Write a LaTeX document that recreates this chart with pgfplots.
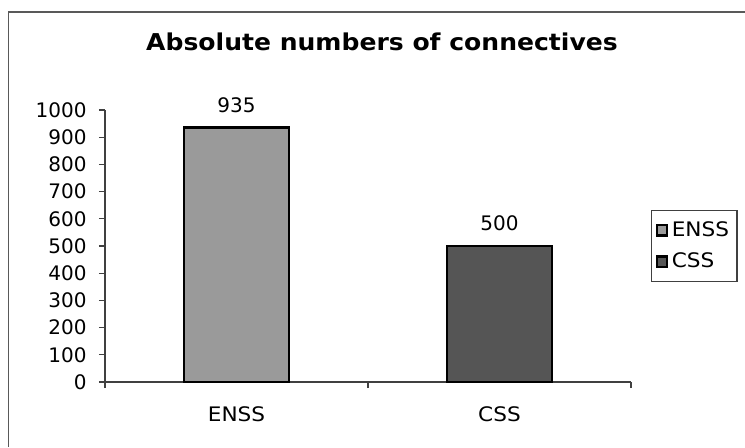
\documentclass[border=0pt]{standalone}
\usepackage{pgfplots}
\pgfplotsset{compat=1.18}
\usepackage{fontspec}
\setmainfont{DejaVu Sans}
\newfontfamily\wide{DejaVu Sans}[FakeStretch=1.08]
\definecolor{enss}{HTML}{9A9A9A}
\definecolor{css}{HTML}{555555}
\begin{document}
\begin{tikzpicture}[x=0.5pt,y=0.5pt]
\path[use as bounding box] (0,0) rectangle (745,447);
\draw[line width=0.6pt, black!65] (8.5,0) -- (8.5,435) -- (745,435);
\node[font=\wide\fontsize{11.6}{14}\selectfont\bfseries] at (382,405) {Absolute numbers of connectives};
\begin{axis}[
  at={(52.5pt,32.5pt)}, anchor=south west,
  width=263pt, height=136pt, scale only axis,
  xmin=-0.5, xmax=1.5, ymin=0, ymax=1000,
  axis lines=left, axis line style={-, black!75, line width=0.6pt},
  tick align=outside,
  ytick={0,100,...,1000},
  major tick length=3pt,
  tick style={black!75, line width=0.6pt},
  xtick={-0.5,0.5,1.5}, xticklabels={},
  extra x ticks={0,1}, extra x tick labels={ENSS,CSS},
  extra x tick style={major tick length=0pt, xticklabel style={yshift=-9pt, font=\wide\fontsize{10}{12}\selectfont}},
  yticklabel style={xshift=-2.7pt},
  tick label style={font=\fontsize{10}{12}\selectfont},
  /pgf/number format/assume math mode=true,
  /pgf/number format/1000 sep={},
  ybar,
  bar width=0.4,
  nodes near coords,
  every node near coord/.append style={font=\fontsize{10}{12}\selectfont, yshift=3.7pt, black},
  legend style={at={(1,0.5)}, anchor=west, xshift=10pt, draw=black!75, line width=0.6pt,
    font=\wide\fontsize{10}{12}\selectfont, inner xsep=2pt, inner ysep=3.5pt, row sep=3pt},
  legend cell align=left,
  legend image code/.code={\draw[#1, line width=1.1pt] (0pt,-2.7pt) rectangle (5pt,2.7pt);},
]
\addplot[ybar, bar shift=0pt, fill=enss, draw=black, line width=1.2pt] coordinates {(0,935)};
\addplot[ybar, bar shift=0pt, fill=css, draw=black, line width=1.2pt] coordinates {(1,500)};
\legend{ENSS\hspace{9pt},CSS}
\end{axis}
\end{tikzpicture}
\end{document}
